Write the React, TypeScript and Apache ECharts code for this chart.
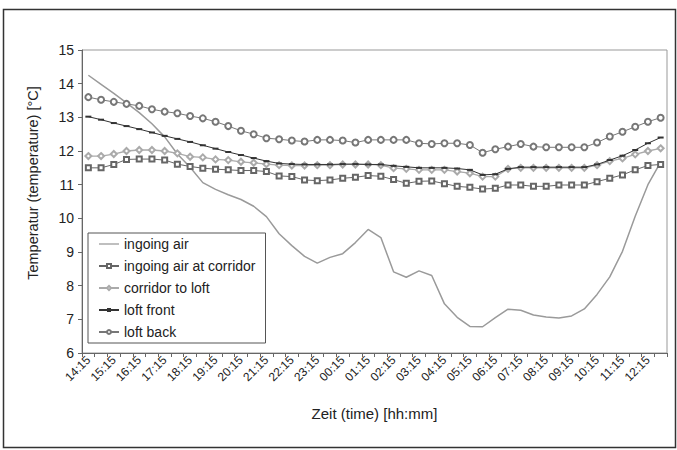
import React, { useEffect, useRef } from "react";
import * as echarts from "echarts";

const categories = [
  "14:15", "14:45", "15:15", "15:45", "16:15", "16:45", "17:15", "17:45",
  "18:15", "18:45", "19:15", "19:45", "20:15", "20:45", "21:15", "21:45",
  "22:15", "22:45", "23:15", "23:45", "00:15", "00:45", "01:15", "01:45",
  "02:15", "02:45", "03:15", "03:45", "04:15", "04:45", "05:15", "05:45",
  "06:15", "06:45", "07:15", "07:45", "08:15", "08:45", "09:15", "09:45",
  "10:15", "10:45", "11:15", "11:45", "12:15", "12:45",
];

const ingoingAir = [
  14.25, 13.98, 13.71, 13.43, 13.14, 12.81, 12.42, 11.91, 11.52, 11.06,
  10.86, 10.7, 10.56, 10.36, 10.05, 9.54, 9.19, 8.87, 8.67, 8.84,
  8.95, 9.28, 9.67, 9.43, 8.41, 8.25, 8.44, 8.3, 7.46, 7.06,
  6.79, 6.78, 7.05, 7.3, 7.27, 7.13, 7.07, 7.04, 7.1, 7.31,
  7.74, 8.26, 9.02, 10.06, 11.0, 11.67,
];

const ingoingAirAtCorridor = [
  11.5, 11.5, 11.6, 11.75, 11.76, 11.76, 11.73, 11.61, 11.54, 11.49,
  11.46, 11.44, 11.42, 11.42, 11.39, 11.26, 11.24, 11.14, 11.12, 11.14,
  11.19, 11.22, 11.27, 11.25, 11.15, 11.04, 11.1, 11.11, 11.03, 10.95,
  10.92, 10.87, 10.89, 10.99, 10.99, 10.95, 10.95, 10.99, 10.99, 10.99,
  11.09, 11.19, 11.29, 11.44, 11.57, 11.6,
];

const corridorToLoft = [
  11.85, 11.85, 11.91, 12.0, 12.03, 12.03, 12.0, 11.93, 11.83, 11.81,
  11.75, 11.73, 11.68, 11.65, 11.61, 11.58, 11.57, 11.57, 11.58, 11.58,
  11.6, 11.6, 11.6, 11.58, 11.49, 11.47, 11.44, 11.44, 11.44, 11.39,
  11.34, 11.24, 11.24, 11.47, 11.5, 11.5, 11.5, 11.5, 11.5, 11.5,
  11.58, 11.7, 11.78, 11.9, 12.0, 12.08,
];

const loftFront = [
  13.02, 12.93, 12.83, 12.74, 12.65, 12.55, 12.45, 12.36, 12.27, 12.17,
  12.07, 11.97, 11.88, 11.79, 11.7, 11.63, 11.61, 11.6, 11.6, 11.6,
  11.61, 11.61, 11.6, 11.6, 11.56, 11.53, 11.5, 11.5, 11.5, 11.48,
  11.44, 11.29, 11.31, 11.47, 11.52, 11.52, 11.52, 11.52, 11.52, 11.52,
  11.6, 11.73, 11.86, 12.03, 12.23, 12.4,
];

const loftBack = [
  13.6, 13.52, 13.46, 13.4, 13.34, 13.24, 13.17, 13.12, 13.04, 12.97,
  12.87, 12.74, 12.6, 12.5, 12.38, 12.35, 12.31, 12.28, 12.33, 12.33,
  12.31, 12.25, 12.33, 12.33, 12.33, 12.33, 12.23, 12.21, 12.23, 12.23,
  12.18, 11.95, 12.05, 12.13, 12.21, 12.13, 12.11, 12.11, 12.11, 12.11,
  12.25, 12.43, 12.57, 12.72, 12.87, 12.99,
];

const seriesNames = [
  "ingoing air",
  "ingoing air at corridor",
  "corridor to loft",
  "loft front",
  "loft back",
];

const xTitle = "Zeit (time) [hh:mm]";
const yTitle = "Temperatur (temperature) [°C]";

export default function App() {
  const ref = useRef<HTMLDivElement>(null);

  useEffect(() => {
    const chart = echarts.init(ref.current as HTMLDivElement, null, { renderer: "svg" });
    const font = "'Liberation Sans', Arial, sans-serif";
    chart.setOption({
      animation: false,
      backgroundColor: "#fff",
      textStyle: { fontFamily: font },
      grid: {
        left: 82,
        top: 50,
        right: 10,
        bottom: 97,
        show: true,
        borderColor: "#999",
        borderWidth: 1,
      },
      legend: {
        orient: "vertical",
        left: 88,
        top: 233,
        padding: [3.5, 10, 3.5, 10],
        itemGap: 7,
        itemWidth: 20,
        itemHeight: 5,
        backgroundColor: "#fff",
        borderColor: "#555",
        borderWidth: 1,
        borderRadius: 0,
        textStyle: { fontFamily: font, fontSize: 14, lineHeight: 15, color: "#222" },
        data: [
          { name: seriesNames[0], icon: "path://M0,0 L22,0 L22,1.4 L0,1.4 Z" },
          seriesNames[1],
          seriesNames[2],
          seriesNames[3],
          seriesNames[4],
        ],
      },
      xAxis: {
        type: "category",
        data: categories,
        boundaryGap: true,
        axisLine: { show: true, lineStyle: { color: "#666", width: 1 } },
        axisTick: { show: true, interval: 0, length: 4, lineStyle: { color: "#666" } },
        axisLabel: {
          interval: 1,
          rotate: 45,
          fontFamily: font,
          fontSize: 12,
          color: "#222",
          margin: 5,
        },
        splitLine: { show: false },
        name: xTitle,
        nameLocation: "middle",
        nameGap: 53,
        nameTextStyle: { fontFamily: font, fontSize: 15, color: "#222" },
      },
      yAxis: {
        type: "value",
        min: 6,
        max: 15,
        interval: 1,
        axisLine: { show: true, lineStyle: { color: "#666", width: 1 } },
        axisTick: { show: true, length: 4, lineStyle: { color: "#666" } },
        axisLabel: { fontFamily: font, fontSize: 14, color: "#222", margin: 8 },
        splitLine: { show: false },
      },
      graphic: [
        {
          type: "rect",
          shape: { x: 3.5, y: 9.5, width: 672, height: 438 },
          style: { fill: "none", stroke: "#333", lineWidth: 1.5 },
          silent: true,
        },
        {
          type: "text",
          x: 33,
          y: 183,
          rotation: Math.PI / 2,
          style: {
            text: yTitle,
            font: `14.5px ${font}`,
            fill: "#222",
            align: "center",
            verticalAlign: "middle",
          },
        },
      ],
      series: [
        {
          name: seriesNames[0],
          type: "line",
          data: ingoingAir,
          symbol: "none",
          lineStyle: { color: "#9a9a9a", width: 1.5 },
          itemStyle: { color: "#9a9a9a" },
          z: 2,
        },
        {
          name: seriesNames[1],
          type: "line",
          data: ingoingAirAtCorridor,
          symbol: "emptyRect",
          symbolSize: 5,
          showAllSymbol: true,
          lineStyle: { color: "#666", width: 1 },
          itemStyle: { color: "#666", borderWidth: 1 },
          z: 3,
        },
        {
          name: seriesNames[2],
          type: "line",
          data: corridorToLoft,
          symbol: "emptyDiamond",
          symbolSize: 6,
          showAllSymbol: true,
          lineStyle: { color: "#aaa", width: 1.3 },
          itemStyle: { color: "#aaa", borderWidth: 1 },
          z: 3,
        },
        {
          name: seriesNames[3],
          type: "line",
          data: loftFront,
          symbol: "rect",
          symbolSize: [6, 2],
          showAllSymbol: true,
          lineStyle: { color: "#333", width: 1 },
          itemStyle: { color: "#333" },
          z: 4,
        },
        {
          name: seriesNames[4],
          type: "line",
          data: loftBack,
          symbol: "emptyCircle",
          symbolSize: 6,
          showAllSymbol: true,
          lineStyle: { color: "#777", width: 1 },
          itemStyle: { color: "#777", borderWidth: 1 },
          z: 3,
        },
      ],
    });
    return () => chart.dispose();
  }, []);

  return (
    <div
      ref={ref}
      style={{ position: "fixed", left: 0, top: 0, width: 677, height: 450, background: "#fff" }}
    />
  );
}
